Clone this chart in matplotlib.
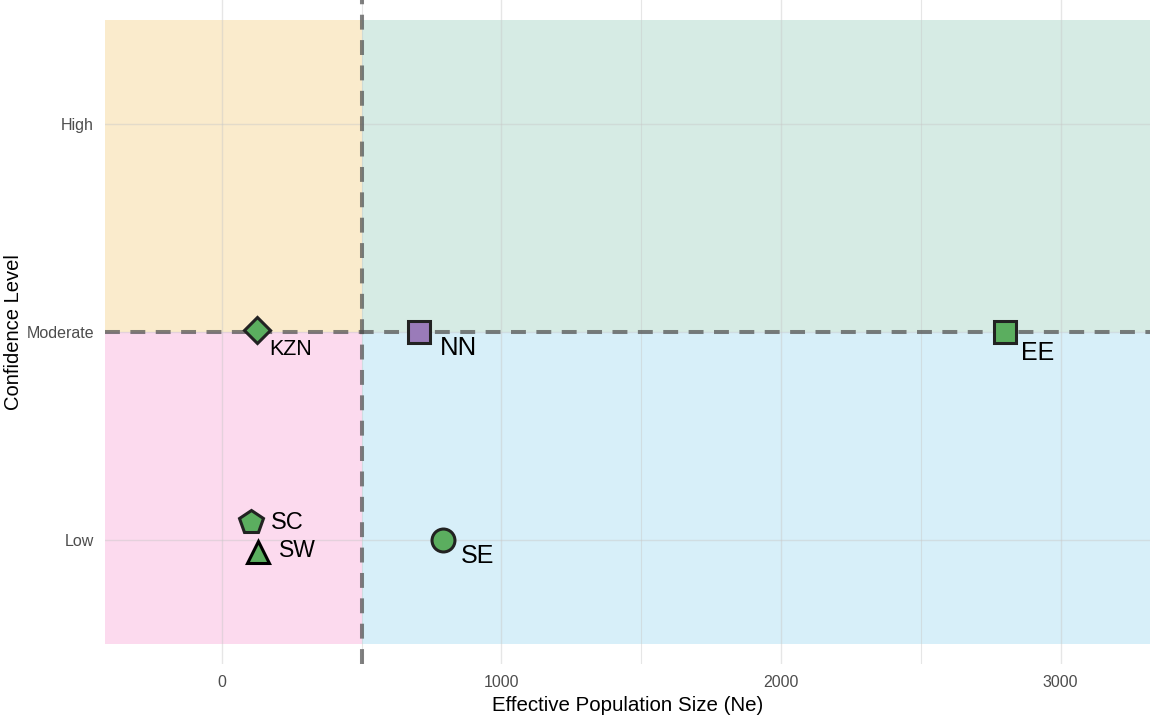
import matplotlib
matplotlib.use("Agg")
import matplotlib.pyplot as plt
from matplotlib.ticker import MultipleLocator

plt.rcParams['font.family'] = ['Liberation Sans', 'DejaVu Sans']

# ---- data ----
sites = ["KZN", "NN", "EE", "SC", "SW", "SE"]
ne_values = [125, 705, 2800, 105, 130, 790]
confidence = [2.01, 2.0, 2.0, 1.09, 0.945, 1.0]
markers = ["D", "s", "s", "p", "^", "o"]
fill_colors = ["#5BAE5F", "#9A7BB9", "#5BAE5F", "#5BAE5F", "#5BAE5F", "#5BAE5F"]
label_sizes = [15.5, 18.5, 18, 17, 16.5, 18]
y_ticks = [1, 2, 3]
y_tick_labels = ["Low", "Moderate", "High"]
x_ticks = [0, 1000, 2000, 3000]
ne_threshold = 500
conf_threshold = 2

# label offsets in points (styling)
label_offsets = [(9, -14), (14.8, -11.5), (12, -15), (14.5, -1), (14.8, 0.5), (13.3, -11)]
marker_sizes = {"D": 13.5, "s": 15.5, "p": 17.5, "^": 16, "o": 16.5}
edge_colors = ["#222222", "#222222", "#222222", "#222222", "#000000", "#222222"]

fig = plt.figure(figsize=(11.52, 7.23), dpi=100)
ax = fig.add_axes([105/1152, 1 - 664/723, (1150-105)/1152, 664/723])

xlim = (-418, 3320)
ylim = (0.405, 3.597)
ax.set_xlim(*xlim)
ax.set_ylim(*ylim)

# quadrant shading
ax.fill_between([xlim[0], ne_threshold], 2, 3.5, color="#FAEBCC", zorder=1, lw=0)
ax.fill_between([ne_threshold, xlim[1]], 2, 3.5, color="#D6EBE4", zorder=1, lw=0)
ax.fill_between([xlim[0], ne_threshold], 0.5, 2, color="#FCDAEE", zorder=1, lw=0)
ax.fill_between([ne_threshold, xlim[1]], 0.5, 2, color="#D7EFF9", zorder=1, lw=0)

# grid
ax.set_xticks(x_ticks)
ax.xaxis.set_minor_locator(MultipleLocator(500))
ax.set_yticks(y_ticks)
ax.set_yticklabels(y_tick_labels)
ax.grid(which="major", color="#c8c8c8", lw=1.0, alpha=0.45, zorder=2)
ax.grid(which="minor", axis="x", color="#c8c8c8", lw=0.8, alpha=0.45, zorder=2)
ax.set_axisbelow(False)
for line in ax.get_xgridlines() + ax.get_ygridlines():
    line.set_zorder(2)

# threshold lines
ax.axvline(ne_threshold, color="#4d4d4d", alpha=0.7, lw=2.9, ls=(0, (3.7, 2.6)), zorder=3)
ax.axhline(conf_threshold, color="#4d4d4d", alpha=0.7, lw=2.9, ls=(0, (3.7, 2.6)), zorder=3)

# points
for s, x, y, m, c, ec, fs, off in zip(sites, ne_values, confidence, markers,
                                       fill_colors, edge_colors, label_sizes, label_offsets):
    ax.plot([x], [y], marker=m, ms=marker_sizes[m], mfc=c, mec=ec, mew=2.2,
            ls="none", zorder=5)
    ax.annotate(s, (x, y), xytext=off, textcoords="offset points",
                ha="left", va="center", fontsize=fs, color="black", zorder=6)

for sp in ax.spines.values():
    sp.set_visible(False)
ax.tick_params(which="both", length=0, colors="#4d4d4d", labelsize=11.5)
ax.tick_params(axis="x", pad=8)
ax.tick_params(axis="y", pad=8)
ax.set_xlabel("Effective Population Size (Ne)", fontsize=14.8, labelpad=4)
ax.set_ylabel("Confidence Level", fontsize=14.5, labelpad=2)

fig.savefig("out.png", dpi=100)
